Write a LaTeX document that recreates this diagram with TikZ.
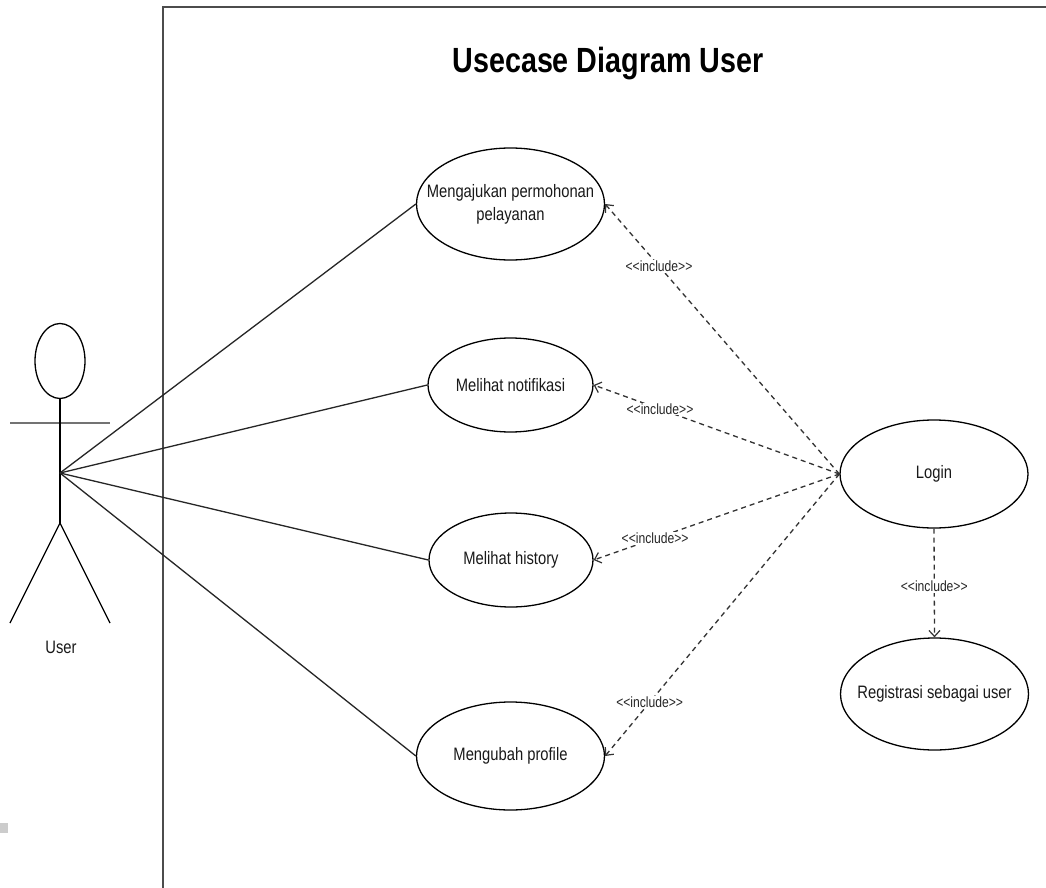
\documentclass[tikz,border=0pt]{standalone}
\usepackage{fontspec}
\setmainfont{Liberation Sans}[FakeStretch=0.82]
\usetikzlibrary{shapes.geometric,arrows.meta}

\newcommand{\inclabel}{{<}{<}include{>}{>}}

\tikzset{
  uc/.style={draw=black, line width=1.3pt, ellipse, inner sep=0pt, fill=white},
  uctext/.style={font=\fontsize{18}{23}\selectfont, align=center, text=black!90},
  assoc/.style={draw=black!85, line width=1.3pt},
  incl/.style={draw=black!80, line width=1.3pt, dash pattern=on 5pt off 4pt,
    -{Straight Barb[length=6pt,width=11pt,line width=1.2pt]}},
  incllabel/.style={font=\fontsize{14.8}{16}\selectfont, fill=white, inner sep=1pt, text=black!85},
  boundary/.style={draw=black!70, line width=1.6pt},
}

\begin{document}
\begin{tikzpicture}[x=1pt,y=-1pt]
  \useasboundingbox (0,0) rectangle (1046,888);
  \fill[white] (0,0) rectangle (1046,888);

  % system boundary
  \coordinate (bTop) at (163,7);
  \coordinate (bBottom) at (163,888);
  \coordinate (bRight) at (1046,7);
  \draw[boundary] (bBottom) -- (bTop) -- (bRight);

  % small grey mark at the left edge
  \fill[black!20] (0,823) rectangle (8,833);

  % title
  \node[anchor=base, font=\fontsize{35}{40}\selectfont\bfseries] (title) at (608,73) {Usecase Diagram User};

  % actor
  \node[draw, ellipse, line width=1.3pt, minimum width=50pt, minimum height=75pt, inner sep=0pt] (head) at (60,361) {};
  \coordinate (hip) at (60,523);
  \coordinate (hub) at (60,473);
  \coordinate (armL) at (10,423);
  \coordinate (armR) at (110,423);
  \coordinate (footL) at (10,623);
  \coordinate (footR) at (110,623);
  \draw[line width=2pt, black!55] (armL) -- (armR);
  \draw[line width=1.3pt] (head.south) -- (hip);
  \draw[line width=1.3pt] (footL) -- (hip) -- (footR);
  \node[anchor=base, font=\fontsize{18}{22}\selectfont, text=black!90] (actor) at (61,653) {User};

  % use cases
  \node[uc, minimum width=188pt, minimum height=112pt,
        label={[uctext]center:Mengajukan permohonan\\pelayanan}] (ajukan) at (510.5,204) {};
  \node[uc, minimum width=165pt, minimum height=94pt,
        label={[uctext]center:Melihat notifikasi}] (notif) at (510.5,385) {};
  \node[uc, minimum width=164pt, minimum height=94pt,
        label={[uctext]center:Melihat history}] (history) at (511,560) {};
  \node[uc, minimum width=188pt, minimum height=108pt,
        label={[uctext]center:Mengubah profile}] (profile) at (510.5,756) {};
  \node[uc, minimum width=188pt, minimum height=108pt,
        label={[uctext]center:Login}] (login) at (934,474) {};
  \node[uc, minimum width=188pt, minimum height=112pt,
        label={[uctext]center:Registrasi sebagai user}] (regis) at (934.5,694) {};

  % associations
  \draw[assoc] (hub) -- (ajukan.west);
  \draw[assoc] (hub) -- (notif.west);
  \draw[assoc] (hub) -- (history.west);
  \draw[assoc] (hub) -- (profile.west);

  % include relations
  \draw[incl] (login.west) -- node[incllabel, pos=0.77] {\inclabel} (ajukan.east);
  \draw[incl] (login.west) -- node[incllabel, pos=0.73] {\inclabel} (notif.east);
  \draw[incl] (login.west) -- node[incllabel, pos=0.75] {\inclabel} (history.east);
  \draw[incl] (login.west) -- node[incllabel, pos=0.81] {\inclabel} (profile.east);
  \draw[incl] (login.south) -- node[incllabel, pos=0.53] {\inclabel} (regis.north);
\end{tikzpicture}
\end{document}
